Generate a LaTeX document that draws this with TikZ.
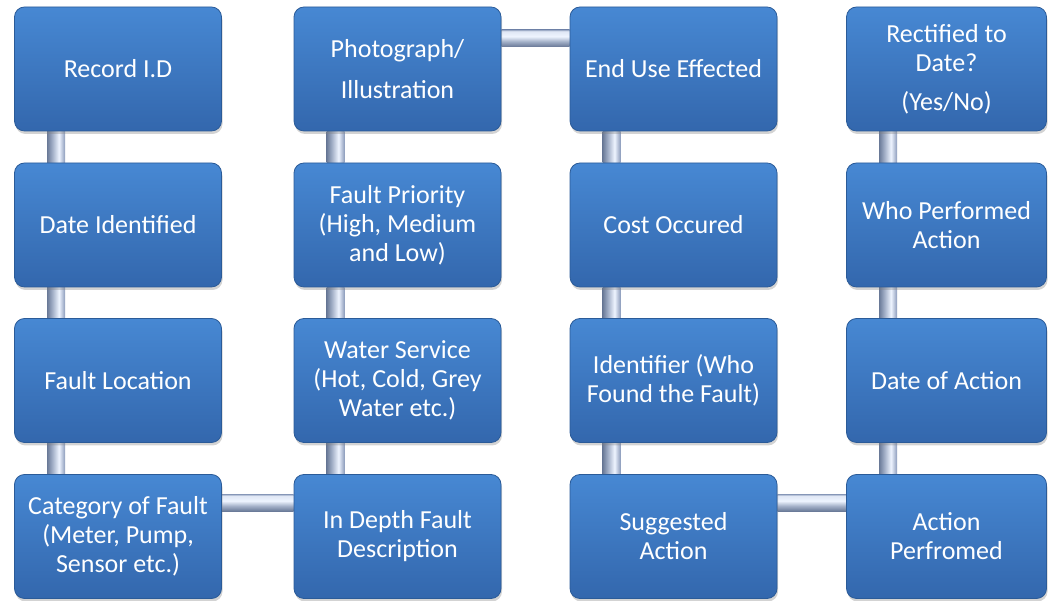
\documentclass[tikz,border=0pt]{standalone}
\usepackage{fontspec}
\setmainfont{Carlito}
\usetikzlibrary{calc,shadows,backgrounds}

\definecolor{boxtop}{HTML}{4788D3}
\definecolor{boxmid}{HTML}{3D7BC6}
\definecolor{boxbot}{HTML}{3367AD}
\definecolor{boxline}{HTML}{2B5B98}
\definecolor{tubedark}{HTML}{6A7A98}
\definecolor{tubemid}{HTML}{A3B0C8}
\definecolor{tubelight}{HTML}{EEF4FF}
\definecolor{tubeedge}{HTML}{8A9ABA}

% the path is fitted onto 25bp--75bp
\pgfdeclarehorizontalshading{vpipe}{100bp}{color(0bp)=(tubedark); color(25bp)=(tubedark);
  color(40bp)=(tubemid); color(58bp)=(tubelight); color(75bp)=(tubeedge); color(100bp)=(tubeedge)}
\pgfdeclareverticalshading{hpipe}{100bp}{color(0bp)=(tubedark); color(25bp)=(tubedark);
  color(40bp)=(tubemid); color(55bp)=(tubelight); color(70bp)=(tubelight!85!tubeedge);
  color(75bp)=(tubeedge); color(100bp)=(tubeedge)}

\tikzset{
  field/.style={rounded corners=10pt, top color=boxtop, middle color=boxmid, bottom color=boxbot,
    draw=boxline, line width=0.8pt, text=white, align=center, inner sep=0pt,
    minimum width=207pt, minimum height=124pt, font=\fontsize{26}{29}\selectfont,
    drop shadow={shadow xshift=1pt, shadow yshift=-3pt, opacity=0.35}},
  vtube/.style={shading=vpipe},
  htube/.style={shading=hpipe},
}

\begin{document}
\begin{tikzpicture}[x=1pt,y=1pt]
  \useasboundingbox (0,0) rectangle (1048,601);
  % first column
  \node[field] (rec)  at (118,532)   {Record I.D};
  \node[field] (date) at (118,376)   {Date Identified};
  \node[field] (loc)  at (118,220.5) {Fault Location};
  \node[field] (cat)  at (118,64.5)  {Category of Fault\\(Meter, Pump,\\Sensor etc.)};
  % second column
  \node[field] (photo) at (397.5,532)   {Photograph/\\[12pt]Illustration};
  \node[field] (prio)  at (397.5,376)   {Fault Priority\\(High, Medium\\and Low)};
  \node[field] (water) at (397.5,220.5) {Water Service\\(Hot, Cold, Grey\\Water etc.)};
  \node[field] (depth) at (397.5,64.5)  {In Depth Fault\\Description};
  % third column
  \node[field] (enduse)  at (673.5,532)   {End Use Effected};
  \node[field] (cost)    at (673.5,376)   {Cost Occured};
  \node[field] (ident)   at (673.5,220.5) {Identifier (Who\\Found the Fault)};
  \node[field] (suggest) at (673.5,64.5)  {Suggested\\Action};
  % fourth column
  \node[field,minimum width=200pt] (rect)    at (946.5,532)   {Rectified to\\Date?\\[10pt](Yes/No)};
  \node[field,minimum width=200pt] (who)     at (946.5,376)   {Who Performed\\Action};
  \node[field,minimum width=200pt] (dateact) at (946.5,220.5) {Date of Action};
  \node[field,minimum width=200pt] (perf)    at (946.5,64.5)  {Action\\Perfromed};

  \begin{scope}[on background layer]
    \foreach \a/\b in {rec/date,date/loc,loc/cat,photo/prio,prio/water,water/depth,
                       enduse/cost,cost/ident,ident/suggest,rect/who,who/dateact,dateact/perf}
      \shade[vtube] ($(\a.south west)+(33,0)$) rectangle ($(\b.north west)+(51,0)$);
    \shade[htube] ($(cat.north east)+(0,-20)$) rectangle ($(depth.north west)+(0,-37)$);
    \shade[htube] ($(photo.north east)+(0,-23)$) rectangle ($(enduse.north west)+(0,-40)$);
    \shade[htube] ($(suggest.north east)+(0,-20)$) rectangle ($(perf.north west)+(0,-37)$);
  \end{scope}
\end{tikzpicture}
\end{document}
